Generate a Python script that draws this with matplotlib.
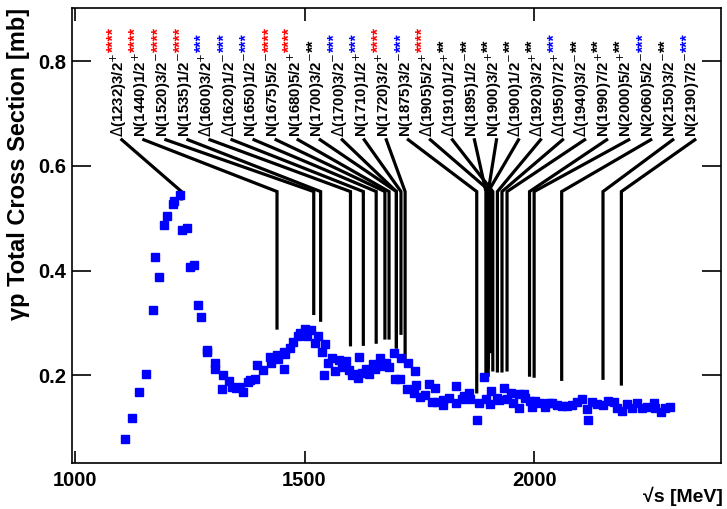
import matplotlib
matplotlib.use("Agg")
import matplotlib.pyplot as plt

plt.rcParams['font.family'] = ['Liberation Sans', 'DejaVu Sans']

# ---- data: gamma p total cross section ----
sqrt_s = [1110, 1124, 1139, 1155, 1170, 1174, 1184, 1193, 1200, 1213, 1216, 1229, 1232, 1245,
          1251, 1260, 1269, 1275, 1287, 1288, 1304, 1305, 1320, 1323, 1336, 1342, 1350, 1359,
          1365, 1376, 1381, 1392, 1396, 1410, 1425, 1427, 1439, 1443, 1456, 1456, 1458, 1468,
          1474, 1485, 1490, 1500, 1506, 1515, 1522, 1529, 1537, 1543, 1545, 1552, 1560, 1567,
          1575, 1582, 1590, 1596, 1604, 1611, 1617, 1619, 1626, 1634, 1641, 1649, 1654, 1664,
          1667, 1678, 1683, 1695, 1697, 1708, 1710, 1724, 1725, 1739, 1740, 1743, 1752, 1763,
          1770, 1778, 1784, 1789, 1801, 1802, 1815, 1829, 1830, 1842, 1847, 1859, 1860, 1875,
          1881, 1890, 1895, 1904, 1905, 1919, 1923, 1935, 1940, 1949, 1953, 1966, 1967, 1979,
          1981, 1990, 1996, 2002, 2012, 2024, 2033, 2038, 2049, 2060, 2071, 2082, 2093, 2104,
          2116, 2118, 2127, 2138, 2150, 2160, 2173, 2180, 2191, 2202, 2213, 2224, 2234, 2245,
          2260, 2264, 2276, 2285, 2296]
sigma = [0.078, 0.119, 0.168, 0.202, 0.324, 0.425, 0.387, 0.488, 0.505, 0.528, 0.533, 0.544, 0.477, 0.481,
         0.407, 0.410, 0.334, 0.312, 0.244, 0.249, 0.211, 0.224, 0.173, 0.201, 0.189, 0.178, 0.175, 0.177,
         0.167, 0.187, 0.191, 0.193, 0.219, 0.210, 0.234, 0.223, 0.239, 0.231, 0.211, 0.245, 0.240, 0.252,
         0.264, 0.275, 0.280, 0.289, 0.275, 0.286, 0.261, 0.275, 0.245, 0.201, 0.259, 0.223, 0.232, 0.207,
         0.229, 0.215, 0.227, 0.210, 0.201, 0.202, 0.194, 0.234, 0.205, 0.211, 0.202, 0.221, 0.211, 0.232,
         0.217, 0.224, 0.215, 0.242, 0.192, 0.192, 0.232, 0.174, 0.224, 0.165, 0.207, 0.182, 0.158, 0.162,
         0.184, 0.149, 0.175, 0.149, 0.152, 0.143, 0.156, 0.146, 0.180, 0.154, 0.160, 0.165, 0.154, 0.115,
         0.146, 0.197, 0.154, 0.144, 0.170, 0.157, 0.152, 0.175, 0.154, 0.165, 0.146, 0.163, 0.138, 0.164,
         0.156, 0.150, 0.140, 0.151, 0.146, 0.140, 0.146, 0.146, 0.142, 0.141, 0.141, 0.143, 0.149, 0.154,
         0.135, 0.115, 0.149, 0.145, 0.143, 0.150, 0.149, 0.138, 0.131, 0.145, 0.138, 0.146, 0.137, 0.140,
         0.147, 0.137, 0.129, 0.137, 0.140]

# ---- resonances ----
res_name = [r"$\Delta$(1232)3/2", "N(1440)1/2", "N(1520)3/2", "N(1535)1/2", r"$\Delta$(1600)3/2",
            r"$\Delta$(1620)1/2", "N(1650)1/2", "N(1675)5/2", "N(1680)5/2", "N(1700)3/2",
            r"$\Delta$(1700)3/2", "N(1710)1/2", "N(1720)3/2", "N(1875)3/2", r"$\Delta$(1905)5/2",
            r"$\Delta$(1910)1/2", "N(1895)1/2", "N(1900)3/2", r"$\Delta$(1900)1/2", r"$\Delta$(1920)3/2",
            r"$\Delta$(1950)7/2", r"$\Delta$(1940)3/2", "N(1990)7/2", "N(2000)5/2", "N(2060)5/2",
            "N(2150)3/2", "N(2190)7/2"]
res_parity = ["+", "+", "-", "-", "+", "-", "-", "-", "+", "-", "-", "+", "+", "-", "+",
              "+", "-", "+", "-", "+", "+", "-", "+", "+", "-", "-", "-"]
res_stars = [4, 4, 4, 4, 3, 3, 3, 4, 4, 2, 3, 3, 4, 3, 4,
             2, 2, 2, 2, 2, 3, 2, 2, 2, 3, 2, 3]
res_line_x = [1232, 1440, 1520, 1535, 1600, 1628, 1656, 1675, 1684, 1700, 1700, 1710, 1719, 1875, 1905,
              1910, 1895, 1900, 1900, 1920, 1930, 1941, 1990, 2000, 2060, 2150, 2190]
res_line_end = [0.537, 0.290, 0.318, 0.305, 0.258, 0.259, 0.263, 0.271, 0.271, 0.254, 0.254, 0.280, 0.233,
                0.168, 0.245, 0.210, 0.205, 0.200, 0.215, 0.208, 0.208, 0.210, 0.200, 0.198, 0.192,
                0.194, 0.183]
label_x0 = 1102
label_dx = 48
label_y = 0.650
knee_y = 0.551
star_colors = {4: "#ff0000", 3: "#0000ff", 2: "black"}

fig = plt.figure(figsize=(7.27, 5.09), dpi=100)
ax = fig.add_axes([72/727, 1-463/509, (721-72)/727, (463-8)/509])
ax.set_xlim(993.5, 2407)
ax.set_ylim(0.032, 0.902)

ax.plot(sqrt_s, sigma, 's', color='#0000ff', ms=5.2, mec='#0000ff', zorder=3)

for i, name in enumerate(res_name):
    lx = label_x0 + label_dx * i
    ax.plot([lx, res_line_x[i], res_line_x[i]], [label_y, knee_y, res_line_end[i]],
            color='black', lw=2.3, solid_joinstyle='miter', zorder=2)
    t = ax.text(lx - 6, label_y + 0.006, name + "$^{" + ("+" if res_parity[i] == "+" else "-") + "}$",
                rotation=90, ha='center', va='bottom', fontsize=10.8, fontweight='bold')
    ax.annotate("*" * res_stars[i], xy=(0, 1), xycoords=t, xytext=(-1.5, 0),
                textcoords='offset points', rotation=90, ha='left', va='bottom',
                fontsize=11.5, fontweight='bold', color=star_colors[res_stars[i]])

ax.set_xticks([1000, 1500, 2000])
ax.set_yticks([0.2, 0.4, 0.6, 0.8])
ax.set_yticklabels(["0.2", "0.4", "0.6", "0.8"])
ax.tick_params(axis='x', direction='in', length=9, width=1.2, top=True, pad=6,
               labelsize=14.5)
ax.tick_params(axis='y', direction='in', length=14, width=1.2, right=True, pad=4,
               labelsize=14.5)
for lab in ax.get_xticklabels() + ax.get_yticklabels():
    lab.set_fontweight('bold')
for sp in ax.spines.values():
    sp.set_linewidth(1.2)

fig.text(19/727, 1-8/509, "\u03b3p Total Cross Section [mb]", rotation=90, ha='center', va='top',
         fontsize=17, fontweight='bold')
fig.text(723/727, 1-496/509, "\u221as [MeV]", ha='right', va='center', fontsize=14, fontweight='bold')

fig.savefig("out.png", dpi=100)
